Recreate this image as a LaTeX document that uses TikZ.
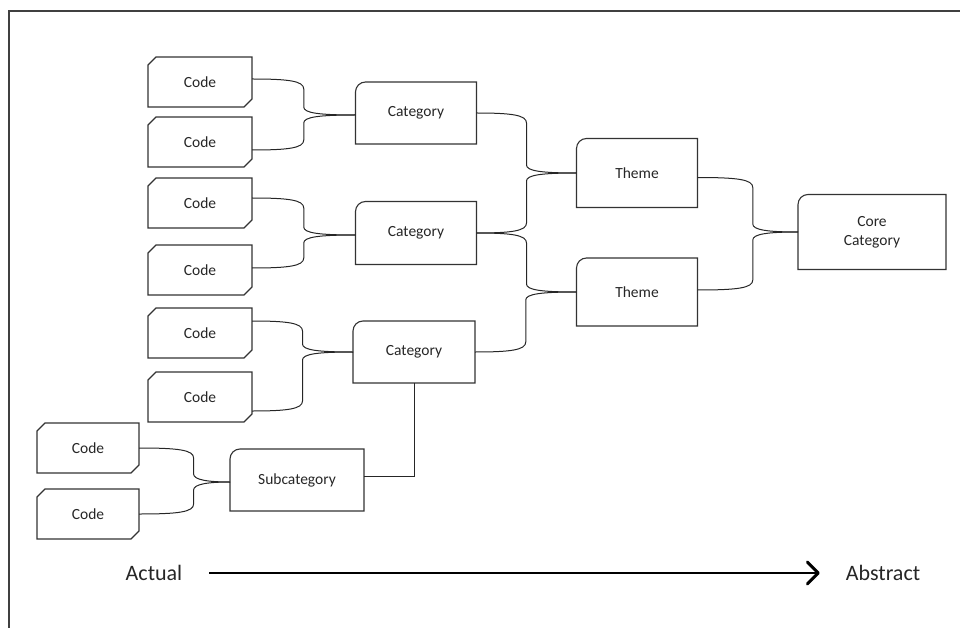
\documentclass[tikz,border=0pt]{standalone}
\usepackage{fontspec}
\setmainfont{Carlito}
\usetikzlibrary{calc,arrows.meta}

% outline of a code box: top-left and bottom-right corners cut off
\newcommand\chamferbox[1]{%
  \draw[boxline] ([xshift=8pt]#1.north west) -- (#1.north east)
    -- ([yshift=8pt]#1.south east) -- ([xshift=-8pt]#1.south east)
    -- (#1.south west) -- ([yshift=-8pt]#1.north west) -- cycle;}
% outline of a grouping box: only the top-left corner rounded
\newcommand\roundbox[1]{%
  \draw[boxline] (#1.south west) -- ([yshift=-10pt]#1.north west)
    arc[start angle=180,end angle=90,radius=10pt]
    -- (#1.north east) -- (#1.south east) -- cycle;}

\tikzset{bracefrac/.store in=\bracefrac, bracefrac=0.5}

\begin{document}
\begin{tikzpicture}[x=1pt,y=-1pt,
  every node/.style={font=\fontsize{15.5}{19}\selectfont, text=black!85, inner sep=0pt, outer sep=0pt},
  codebox/.style={minimum width=104pt, minimum height=50pt},
  boxline/.style={draw=black!80, line width=1.1pt},
  % half-brace connector: out horizontally, down/up at a middle column, into the target
  link/.style={line width=1pt, draw=black!85, to path={
    let \p1=(\tikztostart), \p2=(\tikztotarget),
        \n1={\x1+(\x2-\x1)*\bracefrac}, \n2={sign(\y2-\y1)} in
    .. controls (\n1-15pt,\y1) and (\n1,{\y1+(\n2)*2pt}) .. (\n1,{\y1+(\n2)*10pt})
    -- (\n1,{\y2-(\n2)*8pt})
    .. controls (\n1,{\y2-(\n2)*2pt}) and (\n1+15pt,\y2) .. (\x2,\y2)}},
  axis/.style={line width=2.6pt, -{Straight Barb[length=11pt,width=22pt,line width=3pt,round]}}
]
\useasboundingbox (0,0) rectangle (960,628);

% frame
\draw[line width=1.3pt, black!75] (960,11) -- (9,11) -- (9,628);

% codes
\node[codebox] (c1) at (200,82)  {Code};
\node[codebox] (c2) at (200,142) {Code};
\node[codebox] (c3) at (200,203) {Code};
\node[codebox] (c4) at (200,270) {Code};
\node[codebox] (c5) at (200,333) {Code};
\node[codebox] (c6) at (200,397) {Code};
\node[codebox, minimum width=102pt] (c7) at (88,448) {Code};
\node[codebox, minimum width=102pt] (c8) at (88,514) {Code};
\foreach \n in {c1,c2,c3,c4,c5,c6,c7,c8} {\chamferbox{\n}}

% categories, themes, core
\node[minimum width=121pt, minimum height=62pt] (cat1) at (416,113) {Category};
\node[minimum width=121pt, minimum height=63pt] (cat2) at (416,233) {Category};
\node[minimum width=122pt, minimum height=62pt] (cat3) at (414,352) {Category};
\node[minimum width=134pt, minimum height=62pt] (sub)  at (297,480) {Subcategory};
\node[minimum width=121pt, minimum height=69pt] (th1)  at (637,173) {Theme};
\node[minimum width=121pt, minimum height=68pt] (th2)  at (637,292) {Theme};
\node[minimum width=148pt, minimum height=75pt, align=center] (core) at (872,232) {Core\\Category};
\foreach \n in {cat1,cat2,cat3,sub,th1,th2,core} {\roundbox{\n}}

% codes into categories
\draw[link] ([yshift=3pt]c1.east)  to ([yshift=-2pt]cat1.west);
\draw[link] ([yshift=-8pt]c2.east) to ([yshift=-2pt]cat1.west);
\draw[link] ([yshift=5pt]c3.east)  to ([yshift=-2pt]cat2.west);
\draw[link] ([yshift=2pt]c4.east)  to ([yshift=-2pt]cat2.west);
\draw[link] ([yshift=12pt]c5.east) to (cat3.west);
\draw[link] ([yshift=-14pt]c6.east) to (cat3.west);
\draw[link, bracefrac=0.6] (c7.east) to ([yshift=-2pt]sub.west);
\draw[link, bracefrac=0.6] (c8.east) to ([yshift=-2pt]sub.west);

% subcategory up into its category
\draw[line width=1pt, draw=black!85] ([yshift=4pt]sub.east) -| (cat3.south);

% categories into themes
\draw[link] (cat1.east) to (th1.west);
\draw[link] (cat2.east) to (th1.west);
\draw[link] (cat2.east) to (th2.west);
\draw[link] (cat3.east) to (th2.west);

% themes into the core category
\draw[link, bracefrac=0.55] ([yshift=-4.5pt]th1.east) to (core.west);
\draw[link, bracefrac=0.55] ([yshift=2pt]th2.east) to (core.west);

% axis
\node[font=\fontsize{22}{26}\selectfont] (actual) at (154,573) {Actual};
\node[font=\fontsize{22}{26}\selectfont] (abstract) at (883,573) {Abstract};
\draw[axis, shorten <=27pt, shorten >=26pt] (actual.east) -- (abstract.west);
\end{tikzpicture}
\end{document}
